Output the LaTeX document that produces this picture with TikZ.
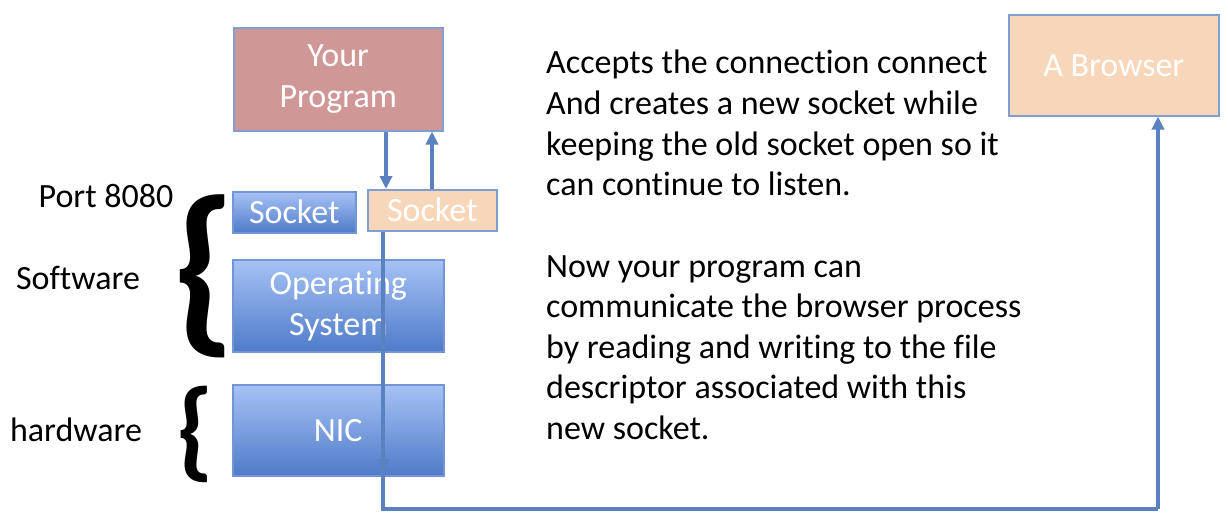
\documentclass[tikz,border=0pt]{standalone}
\usepackage{fontspec}
\setmainfont{Carlito}[Ligatures={NoCommon}]
\usetikzlibrary{arrows.meta}
\definecolor{progfill}{HTML}{CF9896}
\definecolor{peach}{HTML}{F7D6B9}
\definecolor{boxline}{HTML}{7F9ED2}
\definecolor{bluetop}{HTML}{A6C2F5}
\definecolor{bluebot}{HTML}{4F7BC9}
\definecolor{arrowblue}{HTML}{5B82C0}
\tikzset{
  pbox/.style={draw=boxline, line width=1.5pt, text=white, align=center, inner sep=0pt, anchor=north west, font=\fontsize{34}{41}\selectfont},
  bluebox/.style={pbox, top color=bluetop, bottom color=bluebot, draw=bluebot!80},
  conn/.style={draw=arrowblue, line width=3.4pt, -{Triangle[length=13pt,width=12pt]}},
  plain/.style={draw=arrowblue, line width=3.4pt},
  lbl/.style={font=\fontsize{34}{41}\selectfont, text=black, inner sep=0pt},
  para/.style={font=\fontsize{34}{40.6}\selectfont, text=black, align=left, anchor=north west, inner sep=0pt}
}
\begin{document}
\begin{tikzpicture}[x=1pt,y=-1pt]
\useasboundingbox (0,0) rectangle (1228,528);
\fill[white] (0,0) rectangle (1228,528);
% boxes
\node[pbox, fill=progfill, minimum width=209pt, minimum height=103pt] (prog) at (233,27) {Your\\Program};
\node[pbox, fill=peach, minimum width=210pt, minimum height=101pt] (browser) at (1008,14) {A Browser};
\node[bluebox, minimum width=123pt, minimum height=41pt] (sock1) at (232,191) {Socket};
\node[pbox, fill=peach, minimum width=129pt, minimum height=41pt] (sock2) at (367,189) {Socket};
\node[bluebox, minimum width=211pt, minimum height=92pt] (os) at (232,259) {Operating\\System};
\node[bluebox, minimum width=211pt, minimum height=91pt] (nic) at (232,384) {NIC};
% arrows
\draw[conn] (prog.south -| 386,0) -- (sock2.north -| 386,0);
\draw[conn] (sock2.north -| 432,0) -- (prog.south -| 432,0);
\coordinate (nicin) at (383,472);
\coordinate (c1) at (383,509);
\coordinate (c2) at (1158,509);
\draw[conn] (sock2.south -| 383,0) -- (nicin);
\draw[plain] (nicin) -- (c1) -- (c2);
\draw[conn] (c2) -- (browser.south -| 1158,0);
% braces
\node[inner sep=0pt] (brace1) at (204,276) {\fontsize{186}{186}\selectfont\bfseries\{};
\node[inner sep=0pt] (brace2) at (195,434) {\fontsize{110}{110}\selectfont\bfseries\{};
% labels
\node[lbl] (port) at (106,196) {Port 8080};
\node[lbl] (soft) at (78,278) {Software};
\node[lbl] (hard) at (76,430) {hardware};
% paragraphs
\node[para] (p1) at (546,50) {Accepts the connection connect\\And creates a new socket while\\keeping the old socket open so it\\can continue to listen.};
\node[para] (p2) at (546,255) {Now your program can\\communicate the browser process\\by reading and writing to the file\\descriptor associated with this\\new socket.};
\end{tikzpicture}
\end{document}
